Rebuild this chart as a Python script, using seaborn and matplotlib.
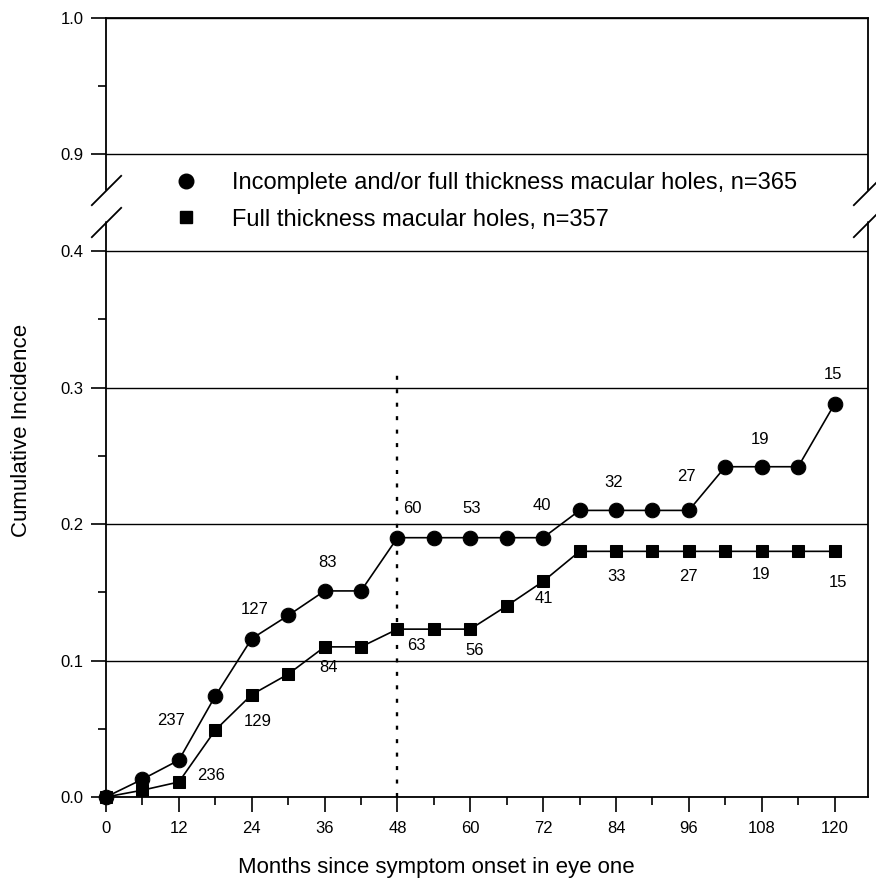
import matplotlib.pyplot as plt
import numpy as np
import seaborn as sns
from matplotlib import ticker
from matplotlib.lines import Line2D

months = [0, 6, 12, 18, 24, 30, 36, 42, 48, 54, 60, 66, 72, 78, 84, 90, 96, 102, 108, 114, 120]
any_hole = [0.000, 0.013, 0.027, 0.074, 0.116, 0.133, 0.151, 0.151, 0.190, 0.190, 0.190,
            0.190, 0.190, 0.210, 0.210, 0.210, 0.210, 0.242, 0.242, 0.242, 0.288]
full_hole = [0.000, 0.005, 0.011, 0.049, 0.075, 0.090, 0.110, 0.110, 0.123, 0.123, 0.123,
             0.140, 0.158, 0.180, 0.180, 0.180, 0.180, 0.180, 0.180, 0.180, 0.180]

# numbers at risk
risk_months = [12, 24, 36, 48, 60, 72, 84, 96, 108, 120]
any_at_risk = [237, 127, 83, 60, 53, 40, 32, 27, 19, 15]
full_at_risk = [236, 129, 84, 63, 56, 41, 33, 27, 19, 15]

any_label = "Incomplete and/or full thickness macular holes, n=365"
full_label = "Full thickness macular holes, n=357"
y_major = [0.0, 0.1, 0.2, 0.3, 0.4, 0.9, 1.0]
y_minor = [0.05, 0.15, 0.25, 0.35, 0.95]
x_major = [0, 12, 24, 36, 48, 60, 72, 84, 96, 108, 120]
x_minor = [6, 18, 30, 42, 54, 66, 78, 90, 102, 114]

# label offsets in pixels from their points (layout only)
any_offsets = [(-8, 40), (3, 29), (3, 28), (15, 29), (1, 29), (-1, 32), (-2, 28), (-2, 34), (-2, 27), (-2, 29)]
full_offsets = [(32, 6), (6, -27), (4, -21), (19, -16), (4, -21), (1, -17), (1, -25), (0, -25), (-1, -23), (3, -31)]

sns.set_style("ticks")
plt.rcParams["font.family"] = ["Liberation Sans", "DejaVu Sans"]
plt.rc("axes", linewidth=1.3, edgecolor="black", labelcolor="black")
plt.rc("text", color="black")
plt.rc("xtick", color="black")
plt.rc("ytick", color="black")

# broken y axis: squeeze 0.4 - 0.9 into a short band
SQUEEZE = 0.1416


def fwd(y):
    y = np.asarray(y, dtype=float)
    return np.where(y <= 0.4, y,
                    np.where(y < 0.9, 0.4 + (y - 0.4) * SQUEEZE, y - 0.5 + 0.5 * SQUEEZE))


def inv(u):
    u = np.asarray(u, dtype=float)
    top = 0.4 + 0.5 * SQUEEZE
    return np.where(u <= 0.4, u,
                    np.where(u < top, 0.4 + (u - 0.4) / SQUEEZE, u + 0.5 - 0.5 * SQUEEZE))


fig = plt.figure(figsize=(8.76, 8.80), dpi=100)
ax = fig.add_axes([106 / 876, 1 - 797 / 880, 762 / 876, 779 / 880])

sns.lineplot(x=months, y=any_hole, ax=ax, color="black", lw=1.2, marker="o",
             markersize=10.5, markeredgecolor="black", clip_on=False, zorder=4)
sns.lineplot(x=months, y=full_hole, ax=ax, color="black", lw=1.2, marker="s",
             markersize=9, markeredgecolor="black", clip_on=False, zorder=4)

ax.set_yscale("function", functions=(fwd, inv))
ax.set_ylim(0, 1.0)
ax.set_xlim(0, 125.5)
ax.yaxis.set_major_locator(ticker.FixedLocator(y_major))
ax.yaxis.set_minor_locator(ticker.FixedLocator(y_minor))
ax.yaxis.set_major_formatter("{x:.1f}")
ax.yaxis.set_minor_formatter(ticker.NullFormatter())
ax.xaxis.set_major_locator(ticker.FixedLocator(x_major))
ax.xaxis.set_minor_locator(ticker.FixedLocator(x_minor))
ax.xaxis.set_major_formatter("{x:.0f}")

ax.tick_params(which="major", direction="out", length=11, width=1.2, labelsize=12,
               color="black", labelcolor="black")
ax.tick_params(which="minor", direction="out", length=6, width=1.2, color="black")
ax.tick_params(axis="x", pad=6)
ax.tick_params(axis="y", pad=5)
ax.yaxis.grid(True, which="major", color="black", lw=1.0)
ax.set_axisbelow(True)

# side spines with break marks
ax.spines["left"].set_visible(False)
ax.spines["right"].set_visible(False)
ytrans = ax.get_yaxis_transform()
for xs in (0, 1):
    for y0, y1 in [(0, 0.55), (0.714, 1.0)]:
        ax.plot([xs, xs], [y0, y1], transform=ytrans, color="black", lw=1.3, clip_on=False)
    ax.plot([xs, xs], [0.55, 0.714], transform=ytrans, ls="none", marker=[(-1, -1), (1, 1)],
            ms=22, mew=1.3, mec="black", clip_on=False)

ax.vlines(48, 0, 0.31, colors="black", linestyles=(0, (1.7, 4.0)), lw=1.7, zorder=3)

for m, n, off in zip(risk_months, any_at_risk, any_offsets):
    ax.annotate(str(n), (m, any_hole[months.index(m)]), xytext=off, textcoords="offset pixels",
                ha="center", va="center", fontsize=12, color="black")
for m, n, off in zip(risk_months, full_at_risk, full_offsets):
    ax.annotate(str(n), (m, full_hole[months.index(m)]), xytext=off, textcoords="offset pixels",
                ha="center", va="center", fontsize=12, color="black")

handles = [
    Line2D([], [], marker="o", ls="none", color="black", ms=10.5),
    Line2D([], [], marker="s", ls="none", color="black", ms=9),
]
leg = ax.legend(handles, [any_label, full_label], loc="upper left",
                bbox_to_anchor=(174 / 876, 1 - 172 / 880), bbox_transform=fig.transFigure,
                frameon=False, fontsize=17, handlelength=1.0, handletextpad=1.45,
                borderpad=0, borderaxespad=0, labelspacing=0.62)
for txt in leg.get_texts():
    txt.set_color("black")

ax.set_xlabel("Months since symptom onset in eye one", fontsize=16, color="black")
ax.xaxis.set_label_coords(0.433, -0.077)
ax.set_ylabel("Cumulative Incidence", fontsize=16, color="black")
ax.yaxis.set_label_coords(-0.097, 0.471)

fig.savefig("out.png", dpi=100)
